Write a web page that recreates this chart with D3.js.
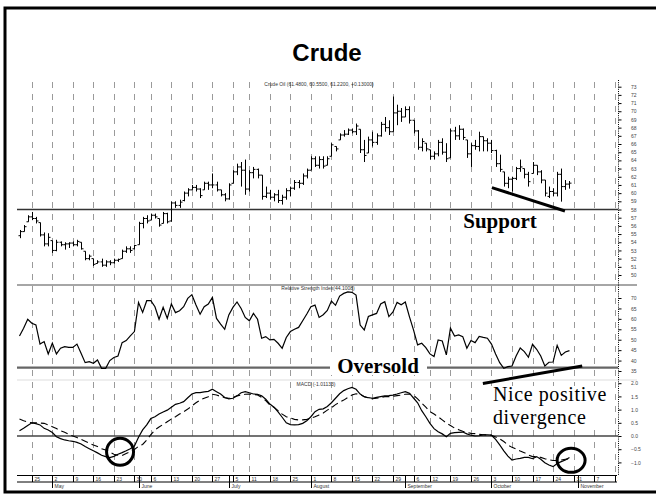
<!DOCTYPE html>
<html><head><meta charset="utf-8">
<script src="https://cdn.jsdelivr.net/npm/d3@7"></script>
<style>body{margin:0;background:#fff}svg{display:block}</style>
</head><body><svg id="c" width="656" height="496"></svg>
<script>
// ---- data (trading-day index 0 = Apr 20, 2005) ----
const highs=[55.5,56.1,57.3,57.7,57.1,56.4,55.2,55.1,54.2,54.3,
54.1,54.0,54.0,54.1,54.3,54.0,52.9,52.5,52.0,51.8,
52.0,51.8,51.8,52.0,52.0,53.1,53.5,53.5,53.7,56.5,
57.1,57.3,57.5,57.5,56.9,57.7,57.6,59.0,59.0,59.2,
60.2,60.6,61.0,61.0,60.6,61.4,61.4,62.4,61.4,60.4,
60.0,61.2,62.8,63.6,63.8,64.1,62.8,63.2,63.0,62.2,
60.8,60.4,60.0,60.4,59.8,60.6,60.8,61.6,61.6,62.4,
63.0,64.5,64.5,64.5,64.5,64.5,66.1,65.7,67.3,67.7,
67.9,67.9,68.5,67.8,66.5,66.9,67.5,67.3,68.7,69.3,
68.9,71.8,70.8,70.4,70.6,70.6,68.9,67.7,66.7,66.1,
65.3,65.1,66.5,66.7,66.1,67.9,68.1,68.3,67.9,66.5,
66.1,66.5,67.5,66.9,66.7,66.5,65.3,64.7,62.6,62.0,
62.0,63.2,64.1,63.0,62.6,63.8,63.4,62.8,61.6,60.8,
60.6,62.6,63.0,61.6,61.48];
const lows=[54.5,55.3,56.5,56.7,56.3,54.7,53.5,53.5,52.7,52.9,
53.5,53.1,53.3,53.5,53.5,53.1,51.8,51.8,51.1,51.4,
51.0,51.0,51.2,51.4,51.6,52.0,52.7,52.7,53.1,53.7,
55.7,56.3,56.7,56.9,55.9,56.3,56.3,56.5,58.2,58.2,
59.0,59.6,60.4,60.2,59.4,60.4,60.4,60.6,60.2,59.6,
59.0,59.2,61.2,62.2,60.8,59.8,60.2,61.8,61.8,59.2,
59.4,59.2,59.0,58.8,58.6,59.2,59.6,60.4,60.6,61.0,
61.8,62.8,63.2,63.0,63.0,63.4,64.5,65.1,66.5,66.9,
67.1,67.3,67.1,64.9,63.8,64.9,65.7,65.9,66.9,67.5,
67.1,67.5,68.3,68.7,69.3,68.5,67.3,65.3,65.1,65.1,
64.1,64.1,64.5,64.7,63.8,64.3,66.5,66.5,66.5,64.3,
63.2,65.3,65.1,65.1,65.1,64.9,63.2,62.6,60.8,60.6,
60.2,61.6,62.6,61.8,60.8,62.4,62.2,61.2,59.6,59.4,
59.6,59.6,58.96,60.4,60.55];
const opens=[54.8,55.3,55.9,57.1,56.9,56.6,54.9,53.8,54.2,53.0,
54.0,53.7,53.8,53.9,53.7,54.0,52.9,52.0,52.0,51.4,
51.6,51.2,51.6,51.5,51.8,52.0,52.9,53.2,53.2,53.7,
56.3,56.9,56.7,57.3,56.9,56.3,57.5,56.6,58.8,58.5,
59.1,60.0,60.4,60.7,60.5,60.4,61.2,61.0,61.0,60.4,
59.8,59.3,61.2,62.6,63.2,62.8,60.5,62.5,62.9,62.2,
59.6,60.0,59.5,59.8,59.1,59.5,60.3,60.6,61.3,61.2,
62.1,62.8,64.2,63.4,64.1,63.4,64.5,65.9,66.5,67.1,
67.2,67.7,67.5,67.8,65.3,64.9,66.5,66.2,67.0,68.4,
68.0,67.5,69.8,70.0,69.3,70.2,68.9,67.6,65.6,66.1,
65.3,64.5,64.8,66.2,65.0,64.3,67.6,67.0,67.8,66.5,
64.8,65.8,65.7,66.9,66.4,66.1,65.2,63.6,62.6,61.2,
61.7,61.8,63.0,63.0,62.3,62.4,63.4,62.6,61.6,59.6,
60.2,60.0,62.3,60.8,61.1];
const closes=[55.3,55.9,57.1,56.9,56.6,54.9,53.8,54.6,53.0,54.0,
53.7,53.8,53.9,53.7,54.1,53.2,52.0,52.3,51.3,51.6,
51.2,51.6,51.5,51.8,51.9,52.9,53.2,53.0,53.6,56.3,
56.9,56.6,57.3,57.1,56.1,57.5,56.5,58.8,58.5,58.9,
60.0,60.4,60.7,60.5,59.7,61.2,61.0,61.0,60.4,59.8,
59.3,61.0,62.6,63.2,62.8,60.5,62.5,62.9,62.2,59.6,
60.0,59.5,59.8,59.1,59.5,60.3,60.6,61.3,61.2,62.1,
62.8,64.2,63.4,64.1,63.3,64.2,65.9,65.4,67.1,67.2,
67.7,67.5,68.2,65.3,64.6,66.5,66.2,67.0,68.4,68.0,
67.5,69.8,70.0,69.3,70.2,68.9,67.6,65.6,66.3,65.4,
64.5,64.8,66.2,65.0,64.2,67.6,67.0,67.8,66.8,64.8,
65.8,65.7,66.9,66.4,66.1,65.2,63.6,62.9,61.2,61.7,
61.8,63.0,63.2,62.3,61.4,63.4,62.6,61.6,60.0,60.2,
60.0,62.3,60.8,61.1,61.22];
const rsi=[51.8,55.5,59.8,57.9,57.1,47.9,49.1,43.2,48.3,43.2,
45.9,46.7,46.3,46.3,47.9,43.5,39.0,39.5,38.7,40.3,
36.3,36.3,40.0,41.5,42.2,48.6,49.6,51.8,53.9,67.8,
63.1,68.7,68.7,65.8,59.8,65.5,60.2,67.1,63.0,63.9,
65.8,69.8,71.6,66.6,62.2,65.8,67.1,70.3,60.2,57.5,
55.0,61.9,65.5,68.1,65.0,60.7,59.1,62.6,59.8,50.7,
51.5,49.9,50.2,48.3,45.9,51.1,53.9,55.0,55.9,59.1,
62.3,65.8,66.6,60.7,62.0,64.0,68.5,66.5,70.9,72.2,
72.9,72.7,71.4,57.0,54.7,61.1,61.9,62.6,67.1,68.2,
61.1,63.3,67.9,66.8,68.1,61.1,54.7,47.5,48.3,46.2,
43.2,41.9,49.9,49.4,42.7,55.5,51.8,52.3,51.5,45.9,
49.6,48.6,51.6,51.1,50.7,47.9,43.2,39.0,36.3,37.1,
37.4,42.2,46.0,44.3,41.6,47.8,45.4,42.2,37.4,39.2,
39.3,47.3,42.5,44.1,44.8];
const macd=[0.20,0.29,0.40,0.50,0.47,0.42,0.29,0.23,0.13,-0.03,
-0.10,-0.15,-0.18,-0.20,-0.24,-0.30,-0.40,-0.48,-0.56,-0.64,
-0.73,-0.78,-0.82,-0.77,-0.69,-0.63,-0.56,-0.48,-0.38,-0.05,
0.23,0.42,0.66,0.73,0.83,0.91,0.98,1.09,1.20,1.24,
1.30,1.45,1.59,1.64,1.64,1.67,1.69,1.77,1.68,1.59,
1.46,1.41,1.43,1.52,1.64,1.68,1.64,1.59,1.58,1.52,
1.39,1.21,1.09,0.91,0.71,0.50,0.43,0.42,0.43,0.48,
0.58,0.73,0.92,1.01,1.03,1.12,1.26,1.43,1.60,1.72,
1.79,1.84,1.77,1.59,1.49,1.45,1.43,1.46,1.49,1.52,
1.53,1.55,1.59,1.64,1.68,1.62,1.44,1.26,0.96,0.73,
0.48,0.28,0.16,0.08,-0.03,0.10,0.13,0.14,0.15,0.08,
0.03,0.00,0.01,0.04,0.04,0.03,-0.13,-0.34,-0.56,-0.76,
-0.91,-0.87,-0.85,-0.81,-0.81,-0.86,-0.78,-0.88,-1.01,-1.10,
-1.16,-1.04,-0.97,-0.91,-0.81];
const signal=[0.64,0.58,0.53,0.50,0.50,0.49,0.48,0.42,0.35,0.28,
0.20,0.14,0.06,0.00,-0.06,-0.13,-0.20,-0.27,-0.34,-0.40,
-0.48,-0.53,-0.61,-0.69,-0.73,-0.74,-0.66,-0.59,-0.51,-0.39,
-0.32,-0.15,0.05,0.23,0.34,0.44,0.54,0.64,0.73,0.83,
0.92,1.02,1.14,1.26,1.36,1.43,1.49,1.58,1.55,1.50,
1.45,1.43,1.46,1.52,1.55,1.58,1.59,1.58,1.55,1.46,
1.34,1.17,1.09,0.96,0.83,0.73,0.68,0.63,0.61,0.61,
0.63,0.67,0.73,0.80,0.87,0.98,1.07,1.19,1.28,1.36,
1.46,1.55,1.60,1.57,1.49,1.44,1.41,1.43,1.46,1.49,
1.49,1.50,1.53,1.55,1.58,1.59,1.54,1.41,1.24,1.09,
0.92,0.83,0.73,0.61,0.49,0.40,0.30,0.24,0.18,0.14,
0.10,0.09,0.06,0.05,0.04,0.03,-0.04,-0.11,-0.21,-0.34,
-0.43,-0.49,-0.57,-0.63,-0.72,-0.78,-0.78,-0.81,-0.86,-0.90,
-0.93,-0.93,-0.91,-0.88,-0.86];
const weekTickIdx=[3,8,13,18,23,28,32,37,42,47,52,56,61,66,71,76,81,86,91,96,100,105,110,115,120,125,130,135,140,145];
const weekLabels=["25","2","9","16","23","30","6","13","20","27","5","11","18","25","1","8","15","22","29","6","12","19","26","3","10","17","24","31","7","14"];
const monthTickIdx=[8,29,51,71,94,115,136];
const monthLabels=["May","June","July","August","September","October","November"];
const priceTicks=d3.range(50,74);
const rsiTicks=[35,40,45,50,55,60,65,70];
const macdTicks=[-1,-0.5,0,0.5,1,1.5,2];
const title="Crude";
const priceLabel="Crude Oil (61.4800, 60.5500, 61.2200, +0.13000)";
const rsiLabel="Relative Strength Index(44.1008)";
const macdLabel="MACD (-1.01133)";
const supportLevel=58, oversoldLevel=36.6;
const supportTrend=[[115.1,60.67],[132.9,57.82]];
const oversoldTrend=[[112.9,29.0],[137.1,37.4]];
const macdCircles=[[24.5,-0.60,13.5,13.5],[134.4,-0.92,14,12]];

// ---- drawing ----
const svg=d3.select("#c");
const L=17,R=618;
const x=d3.scaleLinear().domain([0,140]).range([19.5,594.1]);
const yP=d3.scaleLinear().domain([50,73]).range([275,86.7]);
const yR=d3.scaleLinear().domain([35,70]).range([371,298]);
const yM=d3.scaleLinear().domain([-1,2]).range([462.4,383.2]);
svg.append("rect").attr("width",656).attr("height",496).attr("fill","#fff");

// grid
const g=svg.append("g");
g.selectAll("line.grid").data(weekTickIdx.filter(d=>x(d)<R-2)).join("line")
 .attr("x1",d=>Math.round(x(d))+0.5).attr("x2",d=>Math.round(x(d))+0.5)
 .attr("y1",82).attr("y2",475).attr("stroke","#9a9a9a").attr("stroke-width",1)
 .attr("stroke-dasharray","6,6");

// separators
const hl=(y,x1,x2,c,w)=>svg.append("line").attr("x1",x1).attr("x2",x2).attr("y1",y).attr("y2",y).attr("stroke",c).attr("stroke-width",w);
hl(285,L,637,"#888",1.5);
hl(380,L,637,"#ddd",1);
hl(yP(supportLevel),L,R,"#333",1.5);
hl(yR(oversoldLevel),L,R,"#666",2.2);
hl(yM(0),L,R,"#444",1.5);

// right axis
svg.append("line").attr("x1",R+0.5).attr("x2",R+0.5).attr("y1",80).attr("y2",475)
 .attr("stroke","#000").attr("stroke-dasharray","1,1.2");
function rAxis(scale,ticks,fmt){
  const a=svg.append("g").attr("transform",`translate(${R+0.5},0)`)
   .call(d3.axisRight(scale).tickValues(ticks).tickSize(3).tickPadding(9.5).tickFormat(fmt));
  a.select(".domain").remove();
  a.selectAll("text").attr("font-size",5).attr("font-family","Liberation Sans, Arial").attr("fill","#444");
}
rAxis(yP,priceTicks,d3.format("d"));
rAxis(yR,rsiTicks,d3.format("d"));
rAxis(yM,macdTicks,d3.format(".1f"));

// price bars
const bars=svg.append("g").attr("stroke","#000").attr("stroke-width",1);
highs.forEach((h,i)=>{
  const cx=Math.round(x(i))+0.5;
  const o=Math.max(lows[i],Math.min(h,opens[i]));
  bars.append("line").attr("x1",cx).attr("x2",cx).attr("y1",yP(h)).attr("y2",yP(lows[i]));
  bars.append("line").attr("x1",cx-2).attr("x2",cx).attr("y1",yP(o)).attr("y2",yP(o));
  bars.append("line").attr("x1",cx).attr("x2",cx+2).attr("y1",yP(closes[i])).attr("y2",yP(closes[i]));
});

// RSI
svg.append("path").datum(rsi).attr("fill","none").attr("stroke","#000").attr("stroke-width",1.2)
 .attr("d",d3.line().x((d,i)=>x(i)).y(d=>yR(d)));
// MACD
svg.append("path").datum(signal).attr("fill","none").attr("stroke","#000").attr("stroke-width",1.1)
 .attr("stroke-dasharray","7,4").attr("d",d3.line().x((d,i)=>x(i)).y(d=>yM(d)));
svg.append("path").datum(macd).attr("fill","none").attr("stroke","#000").attr("stroke-width",1.2)
 .attr("d",d3.line().x((d,i)=>x(i)).y(d=>yM(d)));

// bottom date axis
hl(475.5,L,617,"#000",1);
hl(482,L,617,"#000",1);
const ax=svg.append("g");
ax.selectAll("line.wk").data(weekTickIdx).join("line")
 .attr("x1",d=>Math.round(x(d))+0.5).attr("x2",d=>Math.round(x(d))+0.5)
 .attr("y1",475.5).attr("y2",482).attr("stroke","#000");
ax.selectAll("line.mo").data(monthTickIdx).join("line")
 .attr("x1",d=>Math.round(x(d))+0.5).attr("x2",d=>Math.round(x(d))+0.5)
 .attr("y1",475.5).attr("y2",488).attr("stroke","#000");
svg.append("clipPath").attr("id","axclip").append("rect").attr("x",0).attr("y",470).attr("width",R).attr("height",26);
const axt=svg.append("g").attr("clip-path","url(#axclip)").attr("font-family","Liberation Sans, Arial").attr("font-size",5).attr("fill","#333");
axt.selectAll("text.wk").data(weekTickIdx).join("text")
 .attr("x",d=>Math.round(x(d))+2.5).attr("y",480.7).text((d,i)=>weekLabels[i]);
axt.selectAll("text.mo").data(monthTickIdx).join("text")
 .attr("x",d=>Math.round(x(d))+2.5).attr("y",487.5).text((d,i)=>monthLabels[i]);

// panel labels
const small=(t,cx,y)=>svg.append("text").attr("x",cx).attr("y",y).attr("text-anchor","middle")
 .attr("font-family","Liberation Sans, Arial").attr("font-size",5).attr("fill","#333").text(t);
small(priceLabel,319,86);
small(rsiLabel,318,290);
small(macdLabel,316,386);

// title
svg.append("text").attr("x",327).attr("y",61).attr("text-anchor","middle")
 .attr("font-family","Liberation Sans, Arial").attr("font-weight","bold").attr("font-size",24).text(title);

// annotations
const line2=(pts,sy)=>svg.append("line").attr("x1",x(pts[0][0])).attr("y1",sy(pts[0][1]))
 .attr("x2",x(pts[1][0])).attr("y2",sy(pts[1][1])).attr("stroke","#000").attr("stroke-width",3);
line2(supportTrend,yP);
line2(oversoldTrend,yR);
svg.append("rect").attr("x",460).attr("y",212).attr("width",80).attr("height",20).attr("fill","#fff");
svg.append("text").attr("x",500).attr("y",228).attr("text-anchor","middle")
 .attr("font-family","Liberation Serif, Times New Roman").attr("font-weight","bold").attr("font-size",21).text("Support");
svg.append("rect").attr("x",330).attr("y",357).attr("width",97).attr("height",18).attr("fill","#fff");
svg.append("text").attr("x",378).attr("y",373).attr("text-anchor","middle")
 .attr("font-family","Liberation Serif, Times New Roman").attr("font-weight","bold").attr("font-size",21).text("Oversold");
svg.append("rect").attr("x",490).attr("y",386).attr("width",118).attr("height",40).attr("fill","#fff");
const serif="Liberation Serif, Times New Roman";
svg.append("text").attr("x",493).attr("y",401).attr("font-family",serif).attr("font-size",20)
 .attr("letter-spacing",0.6).text("Nice positive");
svg.append("text").attr("x",493).attr("y",424).attr("font-family",serif).attr("font-size",20)
 .attr("letter-spacing",0.6).text("divergence");
macdCircles.forEach(c=>svg.append("ellipse").attr("cx",x(c[0])).attr("cy",yM(c[1])).attr("rx",c[2]).attr("ry",c[3])
 .attr("fill","none").attr("stroke","#000").attr("stroke-width",3));

// frame
svg.append("rect").attr("x",5).attr("y",8).attr("width",660).attr("height",484)
 .attr("fill","none").attr("stroke","#000").attr("stroke-width",3);
</script></body></html>
